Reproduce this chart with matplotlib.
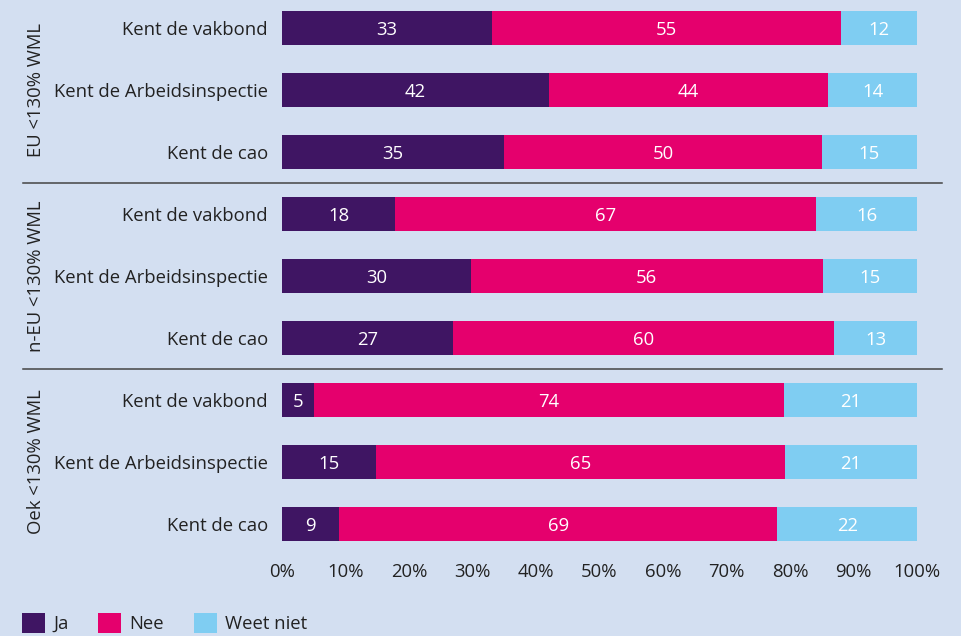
import matplotlib
matplotlib.use("Agg")
import matplotlib.pyplot as plt
import numpy as np
from matplotlib.patches import Patch
from matplotlib.lines import Line2D
import matplotlib.transforms as mtransforms

plt.rcParams['font.family'] = ['Open Sans', 'DejaVu Sans']

groups = ["EU <130% WML", "n-EU <130% WML", "Oek <130% WML"]
items = ["Kent de vakbond", "Kent de Arbeidsinspectie", "Kent de cao"]
series = ["Ja", "Nee", "Weet niet"]
ja = [33, 42, 35, 18, 30, 27, 5, 15, 9]
nee = [55, 44, 50, 67, 56, 60, 74, 65, 69]
weet_niet = [12, 14, 15, 16, 15, 13, 21, 21, 22]
colors = ["#3f1563", "#e5006d", "#7fcdf2"]
bg = "#d3dff1"
txt = "#222222"
fs = 13.3

vals = np.array([ja, nee, weet_niet], dtype=float)
totals = vals.sum(axis=0)
shares = vals / totals * 100

fig = plt.figure(figsize=(9.62, 6.36), dpi=100, facecolor=bg)
W, H = 962, 636
ax = fig.add_axes([282 / W, 1 - 555 / H, (917 - 282) / W, 555 / H])
ax.set_facecolor(bg)

labels = [it for g in groups for it in items]
y = np.arange(len(labels))
left = np.zeros(len(labels))
for k in range(3):
    bars = ax.barh(y, shares[k], left=left, height=0.54, color=colors[k], label=series[k])
    for b, v in zip(bars, vals[k]):
        ax.text(b.get_x() + b.get_width() / 2, b.get_y() + b.get_height() / 2 + 0.03,
                f"{int(v)}", ha='center', va='center', color='white', fontsize=fs)
    left += shares[k]

ax.set_xlim(0, 100)
ax.set_ylim(8.5, -28 / 62)
ax.set_yticks(y)
ax.set_yticklabels(labels, fontsize=fs, color=txt)
ax.set_xticks(np.arange(0, 101, 10))
ax.set_xticklabels([f"{v}%" for v in range(0, 101, 10)], fontsize=fs, color=txt)
ax.tick_params(length=0, pad=6)
ax.tick_params(axis='y', pad=10)
for s in ax.spines.values():
    s.set_visible(False)

trans = mtransforms.blended_transform_factory(fig.transFigure, ax.transData)
for gi, g in enumerate(groups):
    ax.text(36 / W, gi * 3 + 1, g, rotation=90, ha='center', va='center',
            fontsize=fs, color=txt, transform=trans)
for gi in range(1, 3):
    yy = gi * 3 - 0.5
    ax.add_line(Line2D([23 / W, 942 / W], [yy, yy], transform=trans, color='#444444',
                       lw=1.1, clip_on=False))

handles = [Patch(facecolor=c, edgecolor='none') for c in colors]
fig.legend(handles, series, loc='center left', bbox_to_anchor=(5 / W, 1 - 623 / H),
           ncol=3, frameon=False, fontsize=fs, handlelength=1.25, handleheight=1.25,
           handletextpad=0.45, columnspacing=1.6, labelcolor=txt)

fig.savefig("out.png", dpi=100, facecolor=bg)
